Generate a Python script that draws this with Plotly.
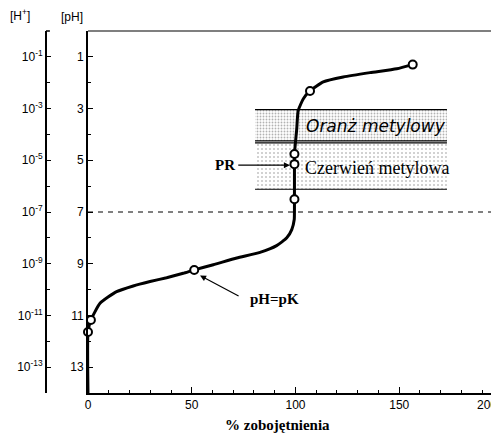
import plotly.graph_objects as go

# ---- data ----
curve_pct = [0, 0, 1.4, 5.8, 13.8, 21.8, 29.9, 37.9, 45.9, 51.2, 60.4, 71.7, 82.9, 90.9,
             95.8, 98.2, 99.4, 99.5, 99.5, 99.5, 99.5, 100.6, 101.3, 103.8, 107.0, 113.4,
             123.0, 135.9, 148.8, 156.5]
curve_ph = [14.0, 11.64, 11.18, 10.53, 10.08, 9.86, 9.69, 9.54, 9.37, 9.24, 9.04, 8.78, 8.56, 8.30,
            8.00, 7.68, 7.29, 6.90, 6.51, 5.15, 4.76, 3.79, 3.08, 2.62, 2.32, 1.97,
            1.78, 1.61, 1.46, 1.30]

point_pct = [0, 1.4, 51.2, 99.5, 99.5, 99.5, 107.0, 156.5]
point_ph = [11.64, 11.18, 9.24, 6.51, 5.15, 4.76, 2.32, 1.30]

neutral_ph = 7.0

orange_band_pct = [80.5, 173.0]
orange_band_ph = [3.04, 4.25]
red_band_pct = [80.5, 173.0]
red_band_ph = [4.33, 6.12]

x_tick_vals = [0, 50, 100, 150]
x_tick_text = ["0", "50", "100", "150"]
x_extra_label = "200"

ph_tick_vals = [1, 3, 5, 7, 9, 11, 13]
ph_tick_text = ["1", "3", "5", "7", "9", "11", "13"]
h_tick_text = ["10<sup>-1</sup>", "10<sup>-3</sup>", "10<sup>-5</sup>", "10<sup>-7</sup>",
               "10<sup>-9</sup>", "10<sup>-11</sup>", "10<sup>-13</sup>"]

x_title = "% zobojętnienia"
orange_label = "Oranż metylowy"
red_label = "Czerwień metylowa"
pr_label = "PR"
pk_label = "pH=pK"

# ---- figure (page body has an 8px margin, so the figure sits at 8,8) ----
OFF = 8
W, H = 499 - OFF, 443 - OFF
ML, MR = 3, 1
MT = 31 - OFF
MB = H - (393 - OFF)
plot_w = W - ML - MR
def px(xs):  # screen x -> paper fraction
    return (xs - OFF - ML) / plot_w
x_dom0 = px(88)
h_axis_pos = px(46)

fig = go.Figure()

def band(pcts, phs, size, solidity, color):
    x0, x1 = pcts
    y0, y1 = phs
    fig.add_trace(go.Scatter(
        x=[x0, x1, x1, x0, x0], y=[y0, y0, y1, y1, y0], mode="lines",
        line=dict(width=0), fill="toself", fillcolor="rgba(0,0,0,0)",
        fillpattern=dict(shape=".", fgcolor=color, bgcolor="white", size=size, solidity=solidity),
        hoverinfo="skip", showlegend=False))
    for yy in (y0, y1):
        fig.add_trace(go.Scatter(x=[x0, x1], y=[yy, yy], mode="lines",
                                 line=dict(color="black", width=1.2),
                                 hoverinfo="skip", showlegend=False))

band(orange_band_pct, orange_band_ph, 3, 0.3, "#666")
band(red_band_pct, red_band_ph, 4, 0.2, "#888")

# neutral line
fig.add_trace(go.Scatter(x=[0, 200], y=[neutral_ph, neutral_ph], mode="lines",
                         line=dict(color="black", width=1, dash="5px,5px"),
                         hoverinfo="skip", showlegend=False))

# curve
fig.add_trace(go.Scatter(x=curve_pct, y=curve_ph, mode="lines",
                         line=dict(color="black", width=3, shape="spline", smoothing=0.5),
                         hoverinfo="skip", showlegend=False, cliponaxis=False))
fig.add_trace(go.Scatter(x=point_pct, y=point_ph, mode="markers",
                         marker=dict(size=8, color="white", line=dict(color="black", width=2)),
                         hoverinfo="skip", showlegend=False, cliponaxis=False))

# dummy trace for second y axis
fig.add_trace(go.Scatter(x=[None], y=[None], yaxis="y2", showlegend=False))

tick_font = dict(family="Liberation Sans, Arial, sans-serif", size=12, color="black")

fig.update_layout(
    width=W, height=H, margin=dict(l=ML, r=MR, t=MT, b=MB, autoexpand=False),
    paper_bgcolor="white", plot_bgcolor="white",
    xaxis=dict(domain=[x_dom0, 1], range=[0, 197.6], showgrid=False, zeroline=False,
               automargin=False,
               showline=True, linecolor="black", linewidth=2,
               tickmode="array", tickvals=x_tick_vals, ticktext=x_tick_text,
               ticks="inside", ticklen=6, tickwidth=1, tickcolor="black",
               minor=dict(dtick=10, ticks="inside", ticklen=3, tickcolor="black", tickwidth=1),
               tickfont=tick_font),
    yaxis=dict(range=[14, 0], showgrid=False, zeroline=False, automargin=False,
               showline=True, linecolor="black", linewidth=2,
               tickmode="array", tickvals=ph_tick_vals, ticktext=ph_tick_text,
               ticks="inside", ticklen=5, tickwidth=1, tickcolor="black",
               minor=dict(dtick=1, ticks="inside", ticklen=3, tickcolor="black", tickwidth=1),
               tickfont=tick_font),
    yaxis2=dict(range=[14, 0], overlaying="y", anchor="free", position=h_axis_pos, side="left",
                automargin=False,
                showgrid=False, zeroline=False, showline=True, linecolor="black", linewidth=2,
                tickmode="array", tickvals=ph_tick_vals, ticktext=h_tick_text,
                ticks="inside", ticklen=4, tickwidth=1, tickcolor="black",
                minor=dict(dtick=1, ticks="inside", ticklen=3, tickcolor="black", tickwidth=1),
                tickfont=dict(family="Liberation Sans, Arial, sans-serif", size=12, color="black")),
)

# frame top and right
fig.add_shape(type="line", xref="paper", yref="paper", x0=x_dom0, x1=1, y0=1, y1=1,
              line=dict(color="black", width=1.2))
fig.add_shape(type="line", xref="paper", yref="paper", x0=1, x1=1, y0=0, y1=1,
              line=dict(color="#555", width=1))
fig.add_shape(type="line", xref="paper", yref="paper", x0=h_axis_pos, x1=h_axis_pos + 0.008,
              y0=1, y1=1, line=dict(color="black", width=1.5))

ann = []
serif_b = dict(family="Liberation Serif, Times New Roman, serif", size=15, color="black")
ann.append(dict(xref="paper", yref="paper", x=px(20), y=1, xanchor="center",
                yanchor="middle", yshift=16, text="[H<sup>+</sup>]", showarrow=False,
                font=dict(family="Liberation Sans, Arial, sans-serif", size=12, color="black")))
ann.append(dict(xref="paper", yref="paper", x=px(72), y=1, xanchor="center",
                yanchor="middle", yshift=14, text="[pH]", showarrow=False,
                font=dict(family="Liberation Sans, Arial, sans-serif", size=12, color="black")))
ann.append(dict(xref="paper", yref="paper", x=1.0, y=0, xanchor="right",
                yanchor="top", yshift=-3, xshift=1, text=x_extra_label, showarrow=False,
                font=tick_font))
ann.append(dict(xref="paper", yref="paper", x=px(277), y=0, xanchor="center",
                yanchor="middle", yshift=-32, text="<b>" + x_title + "</b>", showarrow=False,
                font=serif_b))
ann.append(dict(xref="x", yref="y", x=138.8, y=3.67, text="<i>" + orange_label + "</i>",
                showarrow=False, font=dict(family="DejaVu Sans, sans-serif", size=17, color="black")))
ann.append(dict(xref="x", yref="y", x=139.5, y=5.28, text=red_label, showarrow=False,
                font=dict(family="Liberation Serif, Times New Roman, serif", size=18, color="black")))
ann.append(dict(xref="x", yref="y", x=66.0, y=5.2, text="<b>" + pr_label + "</b>",
                showarrow=False, font=serif_b))
ann.append(dict(xref="x", yref="y", x=97.3, y=5.19, ax=71.7, ay=5.19, axref="x", ayref="y",
                text="", showarrow=True, arrowhead=2, arrowsize=1, arrowwidth=1.2,
                arrowcolor="black"))
ann.append(dict(xref="x", yref="y", x=90.1, y=10.35, text="<b>" + pk_label + "</b>",
                showarrow=False, font=serif_b))
ann.append(dict(xref="x", yref="y", x=54.0, y=9.46, ax=73.3, ay=10.28, axref="x", ayref="y",
                text="", showarrow=True, arrowhead=2, arrowsize=1, arrowwidth=1.2,
                arrowcolor="black"))
fig.update_layout(annotations=ann)

fig.write_html("out.html")
